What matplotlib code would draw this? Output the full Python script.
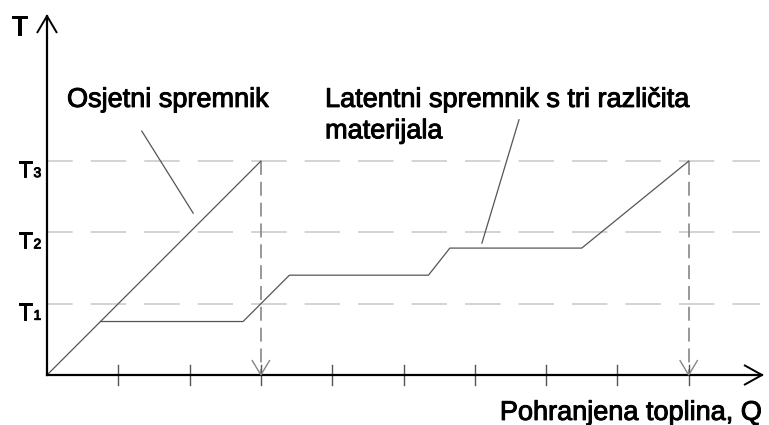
import numpy as np
import matplotlib
matplotlib.use('Agg')
import matplotlib.pyplot as plt
import matplotlib.patheffects as pe

plt.rcParams['font.family'] = ['Liberation Sans', 'DejaVu Sans']
plt.rcParams['lines.scale_dashes'] = False

# temperature levels and their subscripts
levels = [1, 2, 3]
level_subs = ['1', '2', '3']

# sensible storage: straight line up to T3
sens_q = [0, 3]
sens_t = [0, 3]

# latent storage with three materials (three plateaus)
lat_q = [0.75, 2.75, 3.4, 5.35, 5.65, 7.5, 9.0]
lat_t = [0.75, 0.75, 1.4, 1.4, 1.78, 1.78, 3.0]

tick_q = [1, 2, 3, 4, 5, 6, 7, 8, 9]
drop_q = [3, 9]   # where each store reaches T3

# label leader lines (from text to curve)
lead_sens = ([1.33, 2.05], [3.42, 2.27])
lead_lat = ([6.62, 6.10], [3.58, 1.85])

W, H = 769, 425
unit = 71.3            # px per data unit, both axes
ox, oy = 47, 375       # origin in px (from top)

fig = plt.figure(figsize=(W / 100, H / 100), dpi=100, facecolor='white')
ax = fig.add_axes([0, 0, 1, 1])
ax.set_xlim(-ox / unit, (W - ox) / unit)
ax.set_ylim(-(H - oy) / unit, oy / unit)
ax.axis('off')

line_c = '#555555'
px = 1 / unit
bold = [pe.withStroke(linewidth=0.7, foreground='black')]


def open_arrow(x, y, dx, dy, length, half, color, lw):
    # open "V" head with tip at (x, y) pointing along (dx, dy)
    nx, ny = -dy, dx
    bx, by = x - dx * length, y - dy * length
    ax.plot([bx + nx * half, x, bx - nx * half], [by + ny * half, y, by - ny * half],
            color=color, lw=lw, solid_capstyle='butt', solid_joinstyle='miter', zorder=6)


# dashed temperature levels
for lv in levels:
    ax.plot([0, 10.0], [lv, lv], color='#c8c8c8', lw=1.1,
            ls=(7, (25.5, 13)), zorder=1)

# axes
y_top = (oy - 16) / unit
x_end = (762 - ox) / unit
ax.plot([0, 0], [0, y_top], color='black', lw=1.6, zorder=5)
ax.plot([0, x_end], [0, 0], color='black', lw=1.6, zorder=5)
open_arrow(0, y_top, 0, 1, 17 * px, 10 * px, 'black', 1.4)
open_arrow(x_end, 0, 1, 0, 18 * px, 10 * px, 'black', 1.4)

for q in tick_q:
    ax.plot([q, q], [-10 * px, 10 * px], color='#555555', lw=1.0, zorder=4)

# drop lines at full charge
for q in drop_q:
    ax.plot([q, q], [3, 0], color='#868686', lw=1.2, ls=(0, (10, 5)), zorder=3)
    open_arrow(q, 0, 0, -1, 15 * px, 9 * px, '#868686', 1.0)

# storage curves
ax.plot(sens_q, sens_t, color=line_c, lw=0.9, zorder=4)
ax.plot(lat_q, lat_t, color=line_c, lw=0.9, zorder=4)
ax.plot(*lead_sens, color=line_c, lw=0.9, zorder=4)
ax.plot(*lead_lat, color=line_c, lw=0.9, zorder=4)

# labels
fs = 19.5
ax.text(-36 * px, 4.77, 'T', fontsize=fs, ha='left', va='baseline', path_effects=bold)
for lv, s in zip(levels, level_subs):
    ax.text(-14.5 * px, lv - 16 * px, 'T', fontsize=17, ha='right', va='baseline',
            path_effects=bold)
    ax.text(-13.5 * px, lv - 16 * px, s, fontsize=10, ha='left', va='baseline',
            path_effects=bold)

ax.text(20 * px, 3.76, 'Osjetni spremnik', fontsize=fs, ha='left', va='baseline',
        path_effects=bold)
ax.text(3.9, 3.76, 'Latentni spremnik s tri različita', fontsize=fs, ha='left',
        va='baseline', path_effects=bold)
ax.text(3.9, 3.32, 'materijala', fontsize=fs, ha='left', va='baseline', path_effects=bold)
ax.text(10.03, -0.63, 'Pohranjena toplina, Q', fontsize=fs, ha='right', va='baseline',
        path_effects=bold)

fig.savefig('out.png', dpi=100, facecolor='white')
